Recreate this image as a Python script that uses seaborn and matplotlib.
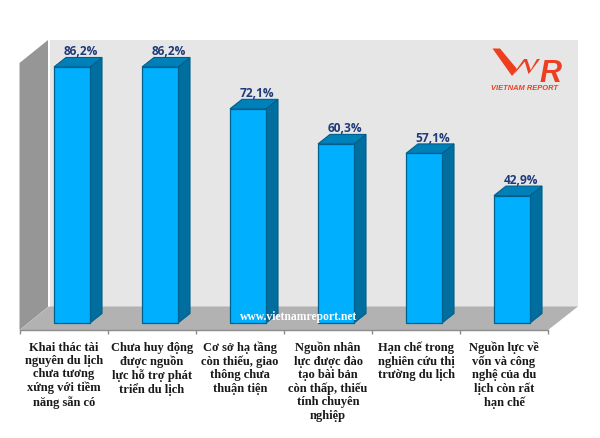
import matplotlib
matplotlib.use("Agg")
import matplotlib.pyplot as plt
from matplotlib.patches import Polygon
from matplotlib.transforms import Affine2D
import seaborn as sns
import pandas as pd

categories = [
    "Khai thác tài\nnguyên du lịch\nchưa tương\nxứng với tiềm\nnăng sẵn có",
    "Chưa huy động\nđược nguồn\nlực hỗ trợ phát\ntriển du lịch",
    "Cơ sở hạ tầng\ncòn thiếu, giao\nthông chưa\nthuận tiện",
    "Nguồn nhân\nlực được đào\ntạo bài bản\ncòn thấp, thiếu\ntính chuyên\nnghiệp",
    "Hạn chế trong\nnghiên cứu thị\ntrường du lịch",
    "Nguồn lực về\nvốn và công\nnghệ của du\nlịch còn rất\nhạn chế",
]
values = [86.2, 86.2, 72.1, 60.3, 57.1, 42.9]
value_labels = ["86,2%", "86,2%", "72,1%", "60,3%", "57,1%", "42,9%"]

W, H = 600, 439
FRONT, SIDE, TOP, EDGE = "#00B0FF", "#006E9E", "#0080B8", "#005F8C"
PX_PER_UNIT = 2.97

sns.set_theme(style="white")
plt.rcParams["font.family"] = ["Liberation Serif", "DejaVu Serif"]

fig = plt.figure(figsize=(W / 100, H / 100), dpi=100, facecolor="white")
px = Affine2D().scale(1, -1).translate(0, H)  # pixel coordinates, top-left origin


def backdrop(points, color, z=0):
    fig.add_artist(Polygon(points, closed=True, facecolor=color, edgecolor="none",
                           transform=px, zorder=z))


backdrop([(49.5, 41), (577.5, 41), (577.5, 308), (49.5, 308)], "#E6E6E6")
backdrop([(19.5, 64), (48, 41), (48, 308), (19.5, 331)], "#969696")
backdrop([(19.5, 331), (49, 307.5), (578, 307.5), (548, 331)], "#B2B2B2")

ax = fig.add_axes([20 / W, (H - 331) / H, 528 / W, (331 - 64) / H], zorder=2)
ax.patch.set_alpha(0)

df = pd.DataFrame({"category": categories, "value": values})
sns.barplot(data=df, x="category", y="value", ax=ax, color=FRONT, saturation=1,
            width=36 / 88, edgecolor=EDGE, linewidth=0.9, zorder=4)
ax.set_xlim(-0.5, 5.5)
ax.set_ylim(-7 / PX_PER_UNIT, (324 - 64) / PX_PER_UNIT)
ax.set_xlabel("")
ax.set_ylabel("")
ax.set_yticks([])

shift = 8 / 88   # bars stand in the middle of the floor depth
dx, dy = 12 / 88, 9.5 / PX_PER_UNIT
for bar, label in zip(list(ax.patches), value_labels):
    bar.set_x(bar.get_x() + shift)
    bar.set_clip_on(False)
    x0, x1 = bar.get_x(), bar.get_x() + bar.get_width()
    h = bar.get_height()
    ax.add_patch(Polygon([(x1, 0), (x1 + dx, dy), (x1 + dx, h + dy), (x1, h)],
                         facecolor=SIDE, edgecolor=EDGE, linewidth=0.8, zorder=3, clip_on=False))
    ax.add_patch(Polygon([(x0, h), (x0 + dx, h + dy), (x1 + dx, h + dy), (x1, h)],
                         facecolor=TOP, edgecolor=EDGE, linewidth=0.8, zorder=3, clip_on=False))
    ax.annotate(label, ((x0 + x1 + dx) / 2, h + dy), xytext=(1.8, 0), textcoords="offset points",
                ha="center", va="bottom", fontsize=8.6, fontweight="bold",
                color="#1F3A7A", family="Open Sans", annotation_clip=False)

sns.despine(ax=ax, left=True, top=True, right=True)
ax.spines["bottom"].set_color("#8C8C8C")
ax.spines["bottom"].set_linewidth(1)
ax.set_xticks([i - 0.5 for i in range(7)], minor=True)
ax.tick_params(axis="x", which="minor", length=3, width=1, color="#8C8C8C", bottom=True)
ax.tick_params(axis="x", which="major", length=0, pad=7.7)
for t in ax.get_xticklabels():
    t.set_fontsize(9)
    t.set_fontweight("bold")
    t.set_color("#1A1A1A")
    t.set_linespacing(1.15)
    t.set_ha("center")

fig.text(299 / W, (H - 317) / H, "www.vietnamreport.net", color="white", fontsize=8.4,
         fontweight="bold", ha="center", va="center", zorder=6)

# logo, in pixel coordinates of the picture
red = "#EE3E1F"
for pts in ([(492.5, 49.5), (500, 49.5), (517, 70), (512, 77)],
            [(512, 77), (516, 73), (527, 60), (524, 60)],
            [(524, 60), (527, 60), (531, 72), (528.5, 75)],
            [(528.5, 75), (531, 72), (540, 60), (537, 60)]):
    fig.add_artist(Polygon(pts, closed=True, facecolor=red, edgecolor="none", transform=px, zorder=6))
fig.text(550 / W, (H - 82.5) / H, "R", color=red, fontsize=22, style="italic", fontweight="bold",
         family="Liberation Sans", ha="center", va="baseline", zorder=6)
fig.text(524.7 / W, (H - 90) / H, "VIETNAM REPORT", color=red, fontsize=5.4, style="italic",
         fontweight="bold", family="Liberation Sans", ha="center", va="baseline", zorder=6)

fig.savefig("out.png", dpi=100, facecolor="white")
